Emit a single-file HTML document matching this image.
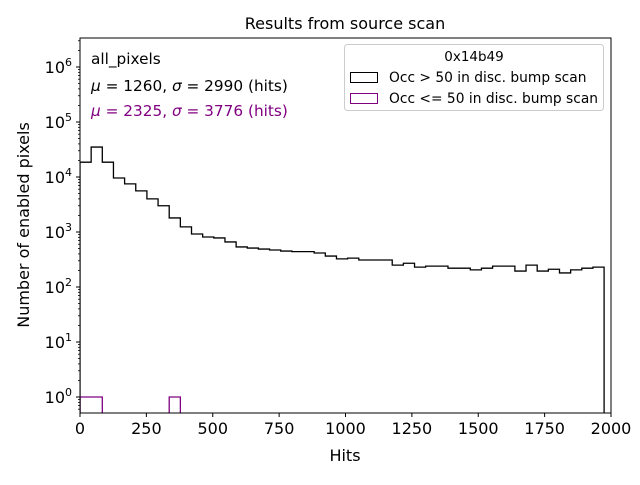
<!DOCTYPE html>
<html><head><meta charset="utf-8"><style>
body{margin:0;background:#fff;width:640px;height:480px;overflow:hidden}
svg text{font-family:"DejaVu Sans","Liberation Sans",sans-serif}
</style></head><body>
<svg id="chart" width="640" height="480" xmlns="http://www.w3.org/2000/svg">
<rect x="0" y="0" width="640" height="480" fill="#fff"/>
<text x="345" y="29" font-size="16" text-anchor="middle">Results from source scan</text>
<g id="marks"></g>
<rect x="80" y="38" width="531" height="375" fill="none" stroke="#000" stroke-width="1"/>
<g id="axes"></g>
<text x="345" y="461" font-size="16" text-anchor="middle">Hits</text>
<text transform="translate(29,225) rotate(-90)" font-size="16" text-anchor="middle">Number of enabled pixels</text>
<text x="91" y="64" font-size="15.3">all_pixels</text>
<text x="91" y="91" font-size="15.3"><tspan font-style="italic">μ</tspan> = 1260, <tspan font-style="italic">σ</tspan> = 2990 (hits)</text>
<text x="91" y="116" font-size="15.3" fill="#800080"><tspan font-style="italic">μ</tspan> = 2325, <tspan font-style="italic">σ</tspan> = 3776 (hits)</text>
<g>
<rect x="344.5" y="44.5" width="259" height="66" rx="3" fill="#fff" fill-opacity="0.8" stroke="#ccc"/>
<text x="474" y="61" font-size="13.5" text-anchor="middle">0x14b49</text>
<rect x="350.5" y="72.5" width="27" height="10" fill="none" stroke="#000"/>
<text x="389" y="82" font-size="13.8">Occ &gt; 50 in disc. bump scan</text>
<rect x="350.5" y="93.5" width="27" height="10" fill="none" stroke="#800080"/>
<text x="389" y="103" font-size="13.8">Occ &lt;= 50 in disc. bump scan</text>
</g>
</svg>
<script>
const binWidth = 42;
const countsHigh = [18600,35000,18600,9600,7500,5600,4000,3000,1800,1240,920,810,780,660,535,510,490,470,450,440,440,415,365,325,335,310,310,310,250,270,230,240,240,220,220,205,220,240,240,195,250,195,210,180,205,220,230];
const countsLow = [1,1,0,0,0,0,0,0,1,0,0,0,0,0,0,0,0,0,0,0,0,0,0,0,0,0,0,0,0,0,0,0,0,0,0,0,0,0,0,0,0,0,0,0,0,0,0];
const xTicks = [0,250,500,750,1000,1250,1500,1750,2000];
const yTickExps = [0,1,2,3,4,5,6];

const NS="http://www.w3.org/2000/svg";
const X0=80,X1=611,Y0=413,Y1=38,XMAX=2000;
const YLO=-16/55, YHI=6+29/55;
function sx(v){return X0+(v/XMAX)*(X1-X0);}
function sy(v){const l=Math.log10(v);return Y0-(l-YLO)/(YHI-YLO)*(Y0-Y1);}
function mk(tag,attrs,parent){const e=document.createElementNS(NS,tag);for(const k in attrs)e.setAttribute(k,attrs[k]);parent.appendChild(e);return e;}
const marks=document.getElementById('marks'), axes=document.getElementById('axes');

function stepPath(counts){
  let d="", started=false;
  for(let i=0;i<counts.length;i++){
    const xa=sx(i*binWidth), xb=sx((i+1)*binWidth);
    const c=counts[i];
    const y = c>0 ? sy(c) : Y0+5;
    if(!started){d+="M"+xa+","+(Y0+5)+" L"+xa+","+y;started=true;}
    else d+=" L"+xa+","+y;
    d+=" L"+xb+","+y;
  }
  d+=" L"+sx(counts.length*binWidth)+","+(Y0+5);
  return d;
}
const clip=mk('clipPath',{id:'pc'},marks);
mk('rect',{x:X0,y:Y1,width:X1-X0,height:Y0-Y1},clip);
const ph=mk('path',{d:stepPath(countsHigh),fill:'none',stroke:'#000','stroke-width':1.3,'clip-path':'url(#pc)'},marks);


const pl=mk('path',{d:stepPath(countsLow),fill:'none',stroke:'#800080','stroke-width':1.3,'clip-path':'url(#pc)'},marks);



xTicks.forEach(t=>{
  const x=sx(t);
  const l=mk('line',{x1:x,x2:x,y1:Y0,y2:Y0+4,stroke:'#000'},axes);
  
  
  const tx=mk('text',{x:x,y:Y0+21,'font-size':16,'text-anchor':'middle'},axes);
  tx.textContent=t;
  
  
});
yTickExps.forEach(e=>{
  const y=sy(Math.pow(10,e));
  const l=mk('line',{x1:X0-4,x2:X0,y1:y,y2:y,stroke:'#000'},axes);
  
  
  const tx=mk('text',{x:X0-8,y:y+6,'font-size':16,'text-anchor':'end'},axes);
  tx.innerHTML='10<tspan dy="-7" font-size="11">'+e+'</tspan>';
  
  
  for(let m=2;m<=9;m++){
    const v=Math.pow(10,e)*m; const yy=sy(v);
    if(yy<Y1)continue;
    const ml=mk('line',{x1:X0-2,x2:X0,y1:yy,y2:yy,stroke:'#000','stroke-width':0.8},axes);
    
    
  }
});
for(let m=2;m<=9;m++){const yy=sy(0.1*m);if(yy<=Y0){const ml=mk('line',{x1:X0-2,x2:X0,y1:yy,y2:yy,stroke:'#000','stroke-width':0.8},axes);}}
</script>
</body></html>
